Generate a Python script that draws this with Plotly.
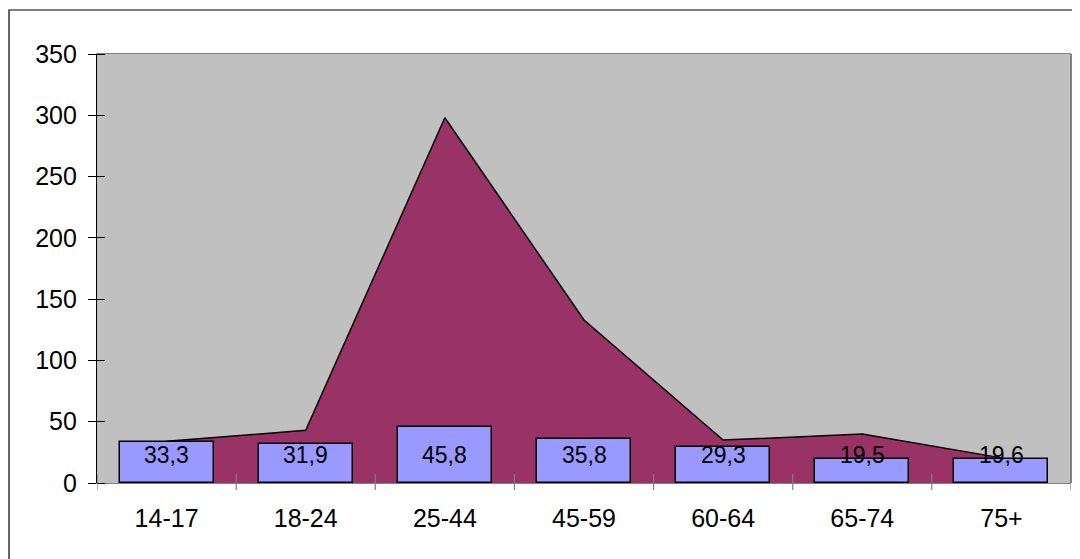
import plotly.graph_objects as go

categories = ["14-17", "18-24", "25-44", "45-59", "60-64", "65-74", "75+"]
area_values = [34, 43, 298, 133, 35, 40, 20.5]
bar_values = [33.3, 31.9, 45.8, 35.8, 29.3, 19.5, 19.6]
y_ticks = [0, 50, 100, 150, 200, 250, 300, 350]

FONT = "Liberation Sans, Arial, sans-serif"
FS = 25
FS_LABEL = 23
OFF = 8  # page body margin
L, R, T, B = 97 - OFF, 1071 - OFF, 54 - OFF, 483 - OFF
W, H = 1080 - OFF, 559 - OFF
pw, ph = R - L, B - T

fig = go.Figure()

fig.add_trace(go.Scatter(
    x=categories, y=area_values, mode="lines", fill="tozeroy",
    fillcolor="#993366", line=dict(color="black", width=1.5),
    xaxis="x", yaxis="y", hoverinfo="skip", showlegend=False,
))

fig.add_trace(go.Bar(
    x=categories, y=bar_values, width=0.676,
    marker=dict(color="#9999FF", line=dict(color="black", width=1.5)),
    xaxis="x2", yaxis="y2", showlegend=False,
))

label_y = 22.8
for c, v in zip(categories, bar_values):
    fig.add_annotation(
        x=c, y=label_y, xref="x2", yref="y2",
        text=f"{v:.1f}".replace(".", ","), showarrow=False,
        font=dict(family=FONT, size=FS_LABEL, color="black"),
        yanchor="middle", xanchor="center",
    )

# category boundary ticks crossing the x axis
ticks_in, ticks_out = 9, 7
for k in range(len(categories) + 1):
    fig.add_shape(
        type="line", xref="x", yref="paper",
        x0=k - 0.5, x1=k - 0.5, y0=-ticks_out / ph, y1=ticks_in / ph,
        line=dict(color="#808080", width=1.2), layer="above",
    )

# plot area right border
fig.add_shape(type="line", xref="paper", yref="paper", x0=1, x1=1, y0=0, y1=1,
              line=dict(color="#808080", width=2), layer="above")

# outer chart border
fig.add_shape(type="rect", xref="paper", yref="paper",
              x0=(1 - L) / pw, x1=(W + 10 - L) / pw,
              y0=(B - (H + 10)) / ph, y1=(B - 2) / ph,
              line=dict(color="black", width=1.2), fillcolor="rgba(0,0,0,0)",
              layer="below")

rng_x = [-0.5, len(categories) - 0.5]
fig.update_layout(
    width=W, height=H,
    margin=dict(l=L, r=W - R, t=T, b=H - B),
    paper_bgcolor="white", plot_bgcolor="#C0C0C0",
    showlegend=False,
    font=dict(family=FONT, size=FS, color="black"),
    xaxis=dict(
        type="category", categoryorder="array", categoryarray=categories,
        range=rng_x, showgrid=False, zeroline=False,
        showline=True, linecolor="#808080", linewidth=1.2, mirror=True,
        ticks="", tickfont=dict(family=FONT, size=FS, color="black"),
        ticklabelstandoff=13,
    ),
    yaxis=dict(
        range=[0, 350], tickvals=y_ticks, showgrid=False, zeroline=False,
        showline=True, linecolor="black", linewidth=1.2,
        ticks="outside", ticklen=8, tickcolor="black", tickwidth=1.2,
        minor=dict(ticks="inside", ticklen=8, tickcolor="black", tickwidth=1.2,
                   tickvals=y_ticks, showgrid=False),
        tickfont=dict(family=FONT, size=FS, color="black"),
        ticklabelstandoff=6,
    ),
    xaxis2=dict(
        type="category", categoryorder="array", categoryarray=categories,
        range=rng_x, overlaying="x", visible=False,
    ),
    yaxis2=dict(range=[0, 350], overlaying="y", visible=False),
    bargap=0,
)

fig.write_html("out.html")
